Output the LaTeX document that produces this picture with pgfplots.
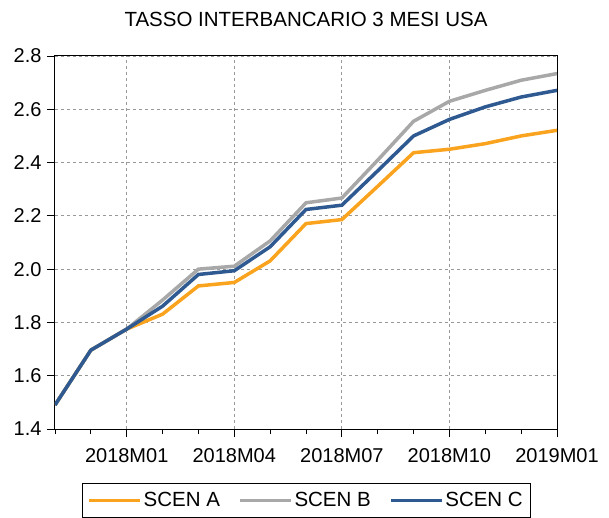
\documentclass[border=0pt]{standalone}
\usepackage{fontspec}
\setmainfont{Liberation Sans}
\usepackage{pgfplots}
\pgfplotsset{compat=1.18}
\definecolor{scenA}{RGB}{250,163,30}
\definecolor{scenB}{RGB}{168,168,168}
\definecolor{scenC}{RGB}{47,90,145}

\begin{document}
\begin{tikzpicture}
\useasboundingbox (-55pt,-89pt) rectangle (554pt,429pt);
\begin{axis}[
    scale only axis,
    width=502pt, height=373pt,
    xmin=0, xmax=14,
    ymin=1.4, ymax=2.8,
    xtick={2,5,8,11,14},
    xticklabels={2018M01,2018M04,2018M07,2018M10,2019M01},
    minor xtick={0,1,...,14},
    ytick={1.4,1.6,...,2.81},
    yticklabel style={/pgf/number format/fixed, /pgf/number format/precision=1,
        /pgf/number format/fixed zerofill, xshift=-2pt},
    /pgf/number format/assume math mode=true,
    tick label style={font=\fontsize{20}{24}\selectfont},
    xticklabel style={yshift=-8pt},
    tick align=outside,
    tick pos=left,
    major tick length=8pt,
    minor tick length=5pt,
    every tick/.style={black, line width=0.8pt},
    axis line style={black, line width=1pt},
    grid=major,
    major grid style={dashed, gray!80, line width=0.8pt},
    title={TASSO INTERBANCARIO 3 MESI USA},
    title style={font=\fontsize{20.5}{24}\selectfont, yshift=20pt},
    legend columns=3,
    legend style={
        at={(0.5,-0.145)}, anchor=north,
        draw=black, line width=0.6pt,
        font=\fontsize{20.5}{24}\selectfont,
        inner xsep=5pt, inner ysep=7pt,
        /tikz/every even column/.append style={column sep=16pt},
    },
    legend image code/.code={
        \draw[#1, line width=3.5pt] (0pt,0pt) -- (51pt,0pt);
    },
]
% SCEN A
\addplot[scenA, line width=3.5pt] coordinates {
    (0,1.49) (1,1.696) (2,1.775) (3,1.831) (4,1.937) (5,1.950) (6,2.031)
    (7,2.171) (8,2.186) (9,2.311) (10,2.437) (11,2.450) (12,2.471) (13,2.500) (14,2.521)
};
\addlegendentry{SCEN A}
% SCEN B
\addplot[scenB, line width=3.5pt] coordinates {
    (0,1.49) (1,1.696) (2,1.775) (3,1.884) (4,2.000) (5,2.011) (6,2.106)
    (7,2.249) (8,2.267) (9,2.409) (10,2.555) (11,2.630) (12,2.671) (13,2.709) (14,2.734)
};
\addlegendentry{SCEN B}
% SCEN C
\addplot[scenC, line width=3.5pt] coordinates {
    (0,1.49) (1,1.696) (2,1.775) (3,1.861) (4,1.980) (5,1.994) (6,2.084)
    (7,2.224) (8,2.240) (9,2.369) (10,2.500) (11,2.562) (12,2.609) (13,2.646) (14,2.671)
};
\addlegendentry{SCEN C}
\end{axis}
\end{tikzpicture}
\end{document}
